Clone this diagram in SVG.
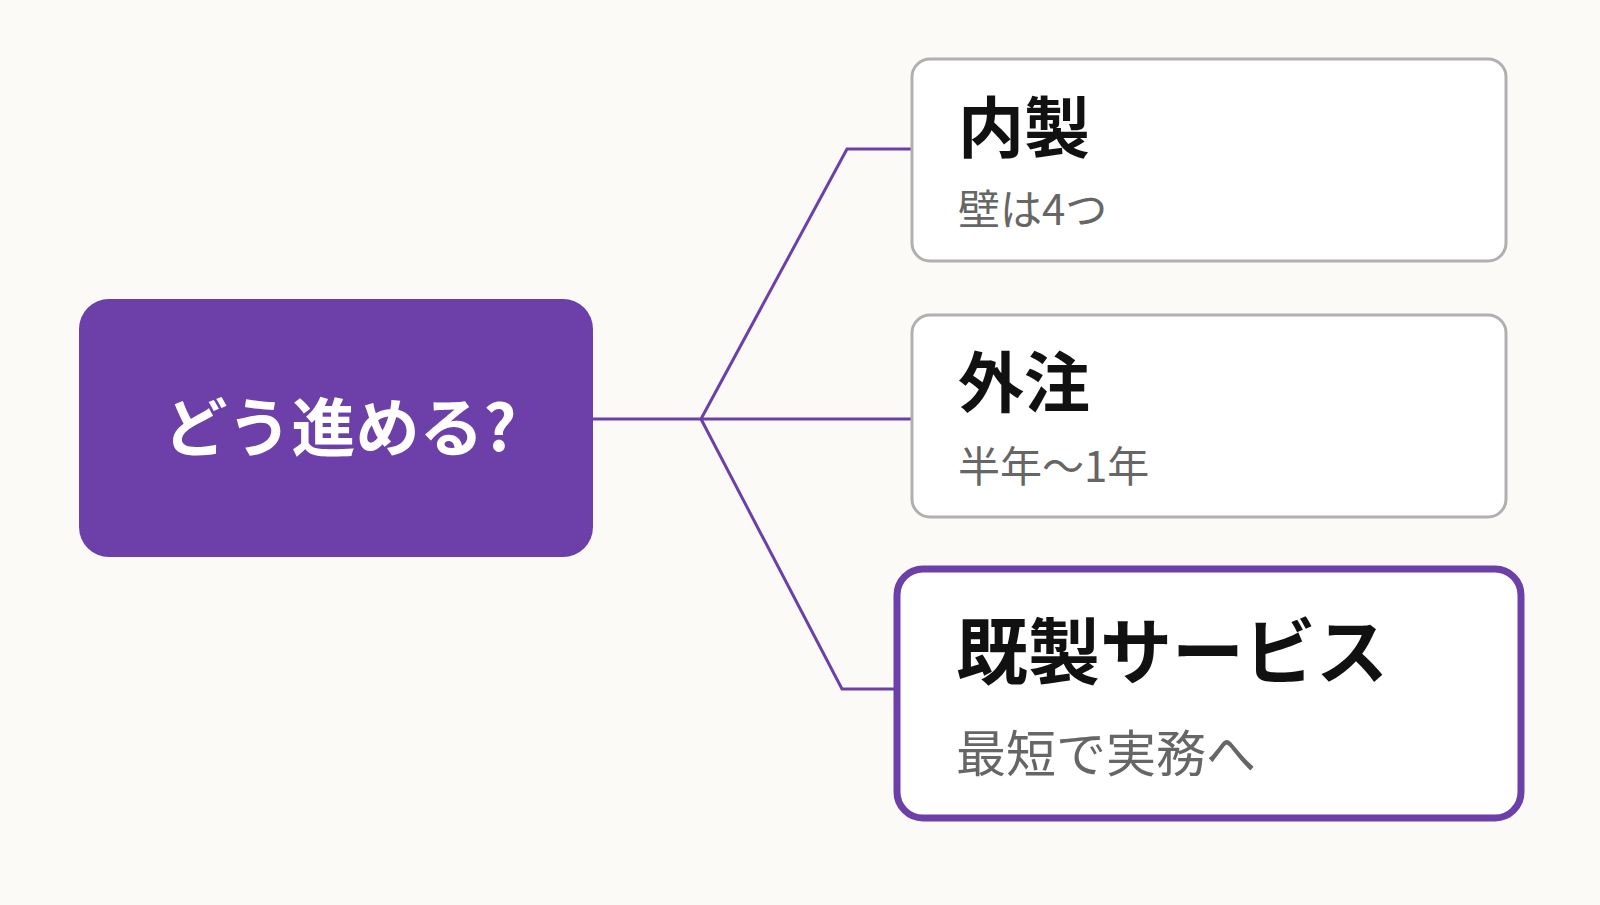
<svg xmlns="http://www.w3.org/2000/svg" width="1600" height="905" viewBox="0 0 1600 905">
<style>
.t{font-family:"Noto Sans CJK JP","Noto Sans",sans-serif;font-weight:700;fill:#111}
.s{font-family:"Noto Sans CJK JP","Noto Sans",sans-serif;fill:#666}
.c{fill:none;stroke:#6c3fa9;stroke-width:3}
</style>
<rect width="1600" height="905" fill="#fbfaf7"/>
<g id="connectors">
<polyline class="c" points="593,419 701,419 847,149 911,149"/>
<polyline class="c" points="701,419 911,419"/>
<polyline class="c" points="701,419 842,689 894,689"/>
</g>
<g id="center">
<rect x="79" y="299" width="514" height="258" rx="30" fill="#6c3fa9"/>
<text x="340" y="451" text-anchor="middle" font-family="Noto Sans CJK JP,sans-serif" font-weight="700" font-size="64" fill="#fff">どう進める?</text>
</g>
<g id="n1">
<rect x="912" y="59" width="594" height="202" rx="18" fill="#fff" stroke="#b0b0b0" stroke-width="3"/>
<text class="t" x="958" y="152" font-size="66">内製</text>
<text class="s" x="958" y="225" font-size="42">壁は4つ</text>
</g>
<g id="n2">
<rect x="912" y="315" width="594" height="202" rx="18" fill="#fff" stroke="#b0b0b0" stroke-width="3"/>
<text class="t" x="958" y="407" font-size="66">外注</text>
<text class="s" x="958" y="482" font-size="42">半年〜1年</text>
</g>
<g id="n3">
<rect x="897" y="569" width="624" height="249" rx="26" fill="#fff" stroke="#6c3fa9" stroke-width="7"/>
<text class="t" x="956" y="678" font-size="72">既製サービス</text>
<text class="s" x="956" y="772" font-size="50">最短で実務へ</text>
</g>
</svg>
